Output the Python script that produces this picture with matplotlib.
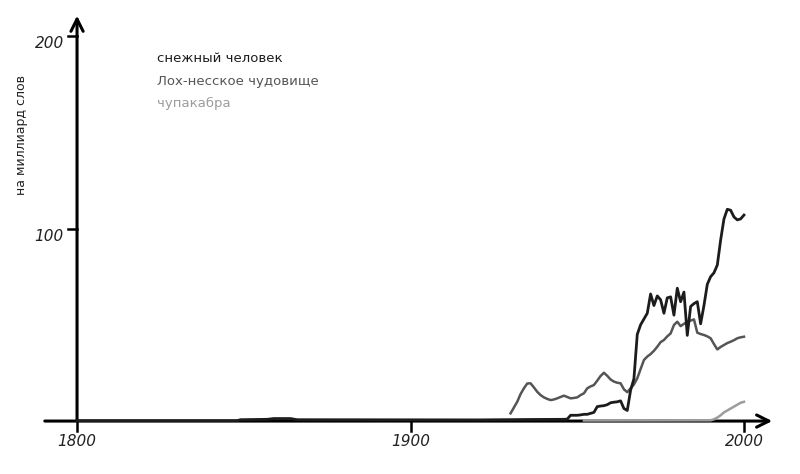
import matplotlib
matplotlib.use("Agg")
import matplotlib.pyplot as plt

# снежный человек (на миллиард слов)
bigfoot_years = [1800, 1848, 1849, 1857, 1859, 1864, 1866, 1920, 1935, 1946,
                 1947, 1948, 1949, 1950, 1951, 1952, 1953, 1954, 1955, 1956,
                 1957, 1958, 1959, 1960, 1961, 1962, 1963, 1964, 1965, 1966,
                 1967, 1968, 1969, 1970, 1971, 1972, 1973, 1974, 1975, 1976,
                 1977, 1978, 1979, 1980, 1981, 1982, 1983, 1984, 1985, 1986,
                 1987, 1988, 1989, 1990, 1991, 1992, 1993, 1994, 1995, 1996,
                 1997, 1998, 1999, 2000]
bigfoot = [0.2, 0.2, 0.7, 0.9, 1.3, 1.3, 0.7, 0.6, 0.8, 0.9,
           1.0, 3.0, 3.0, 3.0, 3.2, 3.5, 3.5, 4.0, 4.5, 7.5,
           7.8, 8.0, 8.5, 9.5, 9.8, 10.0, 10.5, 6.5, 5.5, 16.0,
           22.0, 45.0, 50.0, 53.0, 56.0, 66.0, 60.0, 65.0, 63.0, 56.0,
           64.0, 64.5, 55.0, 69.0, 62.0, 67.0, 44.5, 59.5, 61.0, 62.0,
           50.5, 60.0, 71.0, 75.0, 77.0, 81.0, 94.0, 105.0, 110.0, 109.5,
           106.0, 104.5, 105.0, 107.0]

# Лох-несское чудовище
nessie_years = list(range(1930, 2001))
nessie = [4.0, 7.0, 10.0, 14.0, 17.0, 19.5, 19.6, 17.5, 15.2, 13.5,
          12.3, 11.5, 10.9, 11.2, 11.8, 12.5, 13.2, 12.5, 11.8, 12.0,
          12.3, 13.5, 14.4, 17.0, 18.0, 18.7, 21.0, 23.4, 25.1, 23.5,
          21.6, 20.5, 19.9, 19.6, 16.5, 15.0, 17.0, 19.0, 22.2, 27.0,
          31.7, 33.5, 34.8, 36.5, 38.6, 41.0, 42.1, 44.0, 45.5, 49.9,
          51.6, 49.3, 50.5, 51.5, 52.2, 52.8, 45.9, 45.2, 44.7, 44.0,
          43.0, 40.0, 37.2, 38.5, 39.5, 40.5, 41.2, 42.0, 43.0, 43.5,
          43.8]

# чупакабра
chupa_years = [1952, 1990, 1991, 1992, 1993, 1994, 1995, 1996, 1997, 1998, 1999, 2000]
chupa = [0.3, 0.4, 0.9, 1.8, 3.0, 4.5, 5.5, 6.5, 7.5, 8.5, 9.5, 10.0]

x_ticks = [1800, 1900, 2000]
y_ticks = [100, 200]
legend_labels = ["снежный человек", "Лох-несское чудовище", "чупакабра"]
colors = ["#1c1c1c", "#555555", "#9c9c9c"]

fig = plt.figure(figsize=(8, 4.74), dpi=100)
ax = fig.add_axes([0, 0, 1, 1])
ax.set_xlim(1776.9, 2016.8)
ax.set_ylim(-27.5, 218.7)
ax.axis("off")

# оси со стрелками
ax.annotate("", xy=(2009.3, 0), xytext=(1789.5, 0),
            arrowprops=dict(arrowstyle="->", lw=2.2, color="black", mutation_scale=22))
ax.annotate("", xy=(1800, 212), xytext=(1800, -1),
            arrowprops=dict(arrowstyle="->", lw=2.2, color="black", mutation_scale=22))

for t in x_ticks:
    ax.plot([t, t], [0, -5], color="black", lw=1.8)
    ax.text(t, -10.5, str(t), ha="center", va="center", fontsize=11,
            style="italic", color="#222222")
for t in y_ticks:
    ax.plot([1797.3, 1800], [t, t], color="black", lw=1.8)
    ax.text(1796.0, t - 4, str(t), ha="right", va="center", fontsize=11,
            style="italic", color="#222222")

ax.plot(chupa_years, chupa, color=colors[2], lw=1.8, zorder=3)
ax.plot(nessie_years, nessie, color=colors[1], lw=1.8, zorder=4)
ax.plot(bigfoot_years, bigfoot, color=colors[0], lw=2.0, zorder=5)

fig.text(0.0275, 0.715, "на миллиард слов", rotation=90, ha="center", va="center",
         fontsize=9, color="#222222")

for i, lab in enumerate(legend_labels):
    fig.text(0.196, 0.876 - i * 0.0475, lab, ha="left", va="center",
             fontsize=9.5, color=colors[i])

fig.savefig("out.png", dpi=100)
